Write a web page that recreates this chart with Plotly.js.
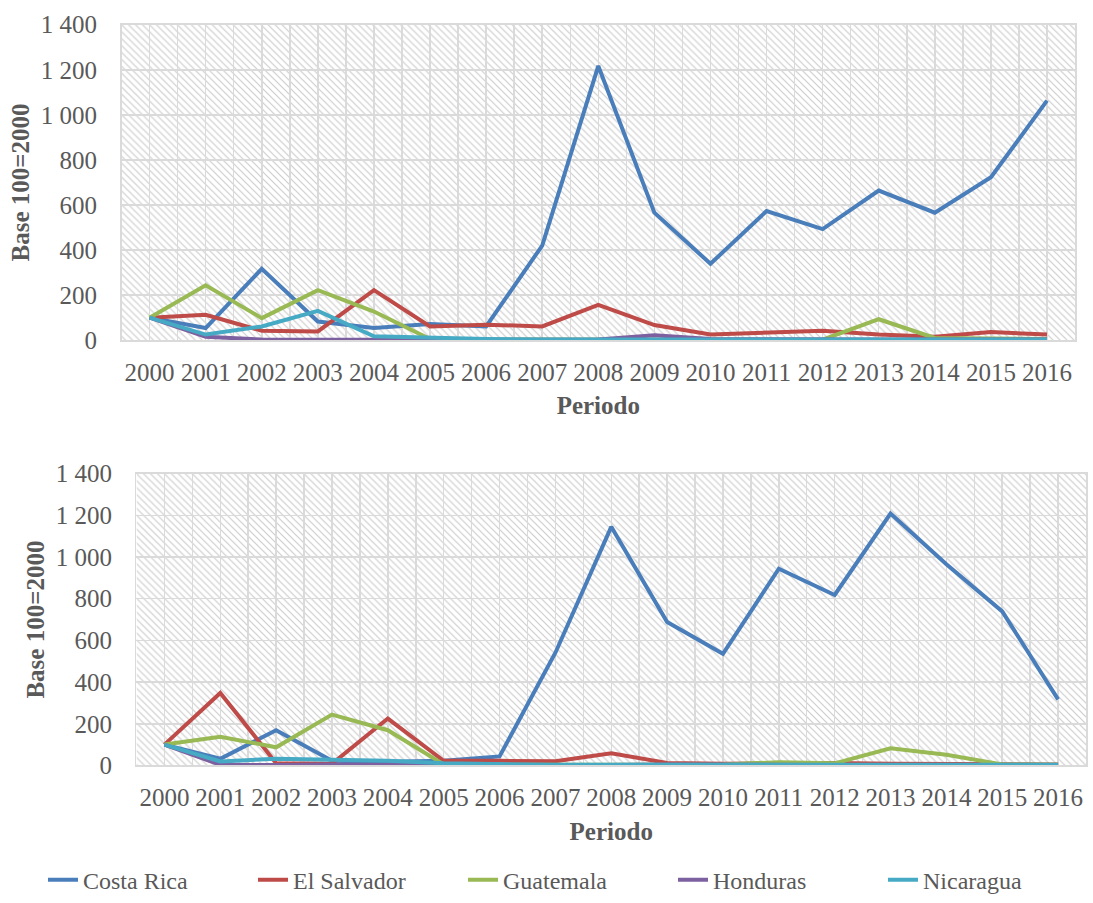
<!DOCTYPE html>
<html>
<head>
<meta charset="utf-8">
<script src="https://cdn.plot.ly/plotly-3.0.1.min.js"></script>
<style>html,body{margin:0;padding:0;background:#fff;}#chart{width:1093px;height:903px;}</style>
</head>
<body>
<div id="chart"></div>
<script>
// ---- Data ----
const years = [2000,2001,2002,2003,2004,2005,2006,2007,2008,2009,2010,2011,2012,2013,2014,2015,2016];
const yearLabels = years.map(String);
const seriesNames = ["Costa Rica","El Salvador","Guatemala","Honduras","Nicaragua"];

// Top chart
const costaRicaTop  = [100, 54, 317, 83, 54, 72, 61, 420, 1217, 566, 339, 573, 493, 664, 566, 723, 1063];
const elSalvadorTop = [100, 113, 42, 39, 222, 61, 69, 61, 157, 67, 25, 32, 42, 25, 15, 36, 25];
const guatemalaTop  = [100, 244, 98, 222, 127, 5, 3, 2, 2, 2, 2, 2, 2, 93, 10, 8, 5];
const hondurasTop   = [100, 15, 3, 2, 2, 2, 2, 2, 3, 22, 5, 3, 3, 3, 3, 3, 3];
const nicaraguaTop  = [100, 25, 61, 130, 17, 10, 5, 3, 3, 3, 3, 3, 3, 3, 3, 3, 3];

// Bottom chart
const costaRicaBot  = [100, 32, 169, 22, 18, 22, 43, 541, 1145, 688, 536, 944, 818, 1209, 965, 739, 317];
const elSalvadorBot = [100, 348, 11, 8, 225, 22, 22, 20, 58, 12, 8, 10, 12, 8, 8, 8, 5];
const guatemalaBot  = [100, 138, 87, 244, 169, 5, 3, 3, 3, 3, 5, 15, 10, 82, 51, 5, 3];
const hondurasBot   = [100, 3, 2, 5, 3, 2, 2, 2, 2, 5, 3, 2, 2, 2, 2, 2, 2];
const nicaraguaBot  = [100, 19, 32, 27, 22, 10, 5, 3, 3, 3, 3, 3, 3, 3, 3, 3, 3];

const yTickVals = [0, 200, 400, 600, 800, 1000, 1200, 1400];
const yTickText = ["0", "200", "400", "600", "800", "1 000", "1 200", "1 400"];

const colors = ["#4A7EBB", "#BE4B48", "#98B954", "#7D60A0", "#46AAC5"];

// ---- Layout geometry (pixels) ----
const W = 1093, H = 903;
const boxTop = {l:122, r:1079, t:25, b:344};
const boxBot = {l:137, r:1090, t:479, b:774};

function hatchSVG(w, h) {
  const s = 7;
  const svg = `<svg xmlns="http://www.w3.org/2000/svg" width="${w}" height="${h}" viewBox="0 0 ${w} ${h}">` +
    `<defs><pattern id="p" patternUnits="userSpaceOnUse" width="${s}" height="${s}">` +
    `<path d="M0,0 L${s},${s} M-1,${s-1} L1,${s+1} M${s-1},-1 L${s+1},1" stroke="#cccccc" stroke-width="1.2"/>` +
    `</pattern></defs><rect width="${w}" height="${h}" fill="#ffffff"/><rect width="${w}" height="${h}" fill="url(#p)"/></svg>`;
  return "data:image/svg+xml;charset=utf-8," + encodeURIComponent(svg);
}

const fontFam = "Liberation Serif, DejaVu Serif, serif";
const txtColor = "#595959";
const gridCol = "#dadada";
const fs = 25;

const topData = [costaRicaTop, elSalvadorTop, guatemalaTop, hondurasTop, nicaraguaTop];
const botData = [costaRicaBot, elSalvadorBot, guatemalaBot, hondurasBot, nicaraguaBot];

const traces = [];
topData.forEach((ys, i) => traces.push({
  type: "scatter", mode: "lines", x: years, y: ys, name: seriesNames[i],
  xaxis: "x", yaxis: "y", legendgroup: seriesNames[i], showlegend: false,
  line: {color: colors[i], width: 4}
}));
botData.forEach((ys, i) => traces.push({
  type: "scatter", mode: "lines", x: years, y: ys, name: seriesNames[i],
  xaxis: "x2", yaxis: "y2", legendgroup: seriesNames[i], showlegend: true,
  line: {color: colors[i], width: 4}
}));

function xAxis(dom, anchor) {
  return {
    domain: dom, anchor: anchor, type: "linear", range: [1999.5, 2016.5],
    tickmode: "array", tickvals: years, ticktext: yearLabels,
    ticks: "", ticklabelstandoff: 9,
    showgrid: true, gridcolor: gridCol, gridwidth: 1.5,
    minor: {tickmode: "linear", tick0: 1999.5, dtick: 1, showgrid: true, gridcolor: gridCol, gridwidth: 1.5, ticks: ""},
    showline: true, linecolor: gridCol, linewidth: 1.5, mirror: true,
    zeroline: false, fixedrange: true,
    tickfont: {family: fontFam, size: fs, color: txtColor},
    title: {text: "<b>Periodo</b>", standoff: 12, font: {family: fontFam, size: fs, color: txtColor}}
  };
}
function yAxis(dom, anchor) {
  return {
    domain: dom, anchor: anchor, range: [0, 1400],
    tickmode: "array", tickvals: yTickVals, ticktext: yTickText,
    ticks: "", ticklabelstandoff: 18,
    showgrid: true, gridcolor: gridCol, gridwidth: 1.5,
    showline: true, linecolor: gridCol, linewidth: 1.5, mirror: true,
    zeroline: false, fixedrange: true,
    tickfont: {family: fontFam, size: fs, color: txtColor},
    title: {text: "<b>Base 100=2000</b>", standoff: 4, font: {family: fontFam, size: fs, color: txtColor}}
  };
}

const layout = {
  width: W, height: H,
  margin: {l: 0, r: 0, t: 0, b: 0, pad: 0},
  paper_bgcolor: "#ffffff", plot_bgcolor: "rgba(0,0,0,0)",
  showlegend: true,
  xaxis: xAxis([boxTop.l / W, boxTop.r / W], "y"),
  yaxis: yAxis([1 - boxTop.b / H, 1 - boxTop.t / H], "x"),
  xaxis2: xAxis([boxBot.l / W, boxBot.r / W], "y2"),
  yaxis2: yAxis([1 - boxBot.b / H, 1 - boxBot.t / H], "x2"),
  legend: {
    orientation: "h", x: 0.531, xanchor: "center", y: 1 - 890 / H, yanchor: "middle",
    font: {family: fontFam, size: 24, color: txtColor},
    entrywidthmode: "pixels", entrywidth: 165,
    tracegroupgap: 0, bgcolor: "rgba(0,0,0,0)"
  },
  images: [
    {source: hatchSVG(boxTop.r - boxTop.l, boxTop.b - boxTop.t), xref: "paper", yref: "paper",
     x: boxTop.l / W, y: 1 - boxTop.t / H, sizex: (boxTop.r - boxTop.l) / W, sizey: (boxTop.b - boxTop.t) / H,
     xanchor: "left", yanchor: "top", sizing: "stretch", layer: "below"},
    {source: hatchSVG(boxBot.r - boxBot.l, boxBot.b - boxBot.t), xref: "paper", yref: "paper",
     x: boxBot.l / W, y: 1 - boxBot.t / H, sizex: (boxBot.r - boxBot.l) / W, sizey: (boxBot.b - boxBot.t) / H,
     xanchor: "left", yanchor: "top", sizing: "stretch", layer: "below"}
  ]
};

Plotly.newPlot("chart", traces, layout, {displayModeBar: false, staticPlot: true});
</script>
</body>
</html>
